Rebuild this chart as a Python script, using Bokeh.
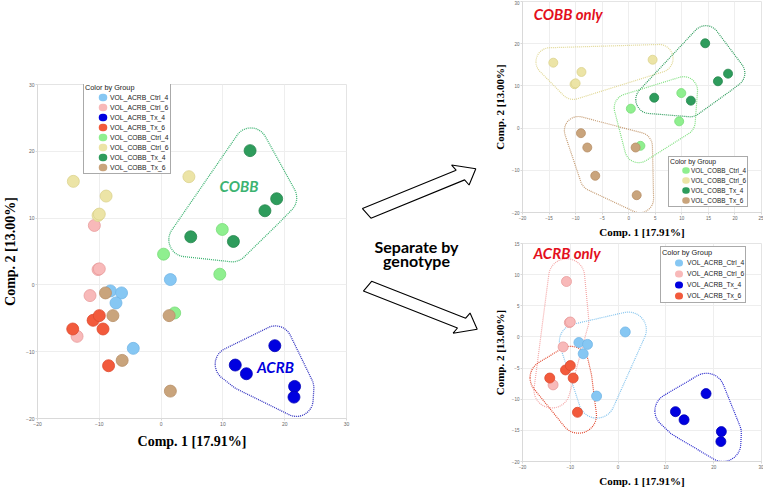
import numpy as np
from bokeh.plotting import figure
from bokeh.models import Range1d, FixedTicker, Legend, LegendItem, Label
from bokeh.layouts import row, column
from bokeh.embed import file_html
from bokeh.resources import INLINE

# ---------------- data ----------------
group_names = ["VOL_ACRB_Ctrl_4", "VOL_ACRB_Ctrl_6", "VOL_ACRB_Tx_4", "VOL_ACRB_Tx_6",
               "VOL_COBB_Ctrl_4", "VOL_COBB_Ctrl_6", "VOL_COBB_Tx_4", "VOL_COBB_Tx_6"]

acrb_ctrl4_x = [-8.2, -6.4, -7.3, 1.5, -4.5]
acrb_ctrl4_y = [-0.9, -1.2, -2.7, 0.8, -9.5]
acrb_ctrl6_x = [-10.8, -10.2, -10.0, -11.5, -13.6]
acrb_ctrl6_y = [8.9, 2.3, 2.4, -1.6, -7.7]
acrb_tx4_x = [18.4, 12.0, 13.8, 21.6, 21.5]
acrb_tx4_y = [-9.1, -12.0, -13.3, -15.2, -16.8]
acrb_tx6_x = [-14.3, -11.0, -10.0, -9.4, -8.5]
acrb_tx6_y = [-6.6, -5.3, -4.6, -6.6, -12.1]
cobb_ctrl4_x = [9.9, 0.4, 9.5, 2.2]
cobb_ctrl4_y = [8.3, 4.6, 1.6, -4.2]
cobb_ctrl6_x = [-14.2, -8.9, -10.2, -10.0, 4.5]
cobb_ctrl6_y = [15.5, 13.3, 10.4, 10.6, 16.2]
cobb_tx4_x = [14.4, 18.7, 16.8, 4.8, 11.7]
cobb_tx4_y = [20.1, 12.9, 11.1, 7.2, 6.5]
cobb_tx6_x = [-9.0, -7.8, 1.3, -6.3, 1.5]
cobb_tx6_y = [-1.2, -4.6, -4.6, -11.3, -15.9]

main_x_ticks = [-20, -10, 0, 10, 20, 30]
main_y_ticks = [-20, -10, 0, 10, 20, 30]
cobb_x_ticks = [-20, -15, -10, -5, 0, 5, 10, 15, 20, 25]
cobb_y_ticks = [-20, -10, 0, 10, 20, 30]
acrb_x_ticks = [-20, -10, 0, 10, 20, 30]
acrb_y_ticks = [-20, -15, -10, -5, 0, 5, 10, 15]

x_label = "Comp. 1 [17.91%]"
y_label = "Comp. 2 [13.00%]"

fills = ["#86c7f3", "#f8b9b9", "#0000e0", "#f25a3c", "#8fef8f", "#ece4a6", "#2e9c5c", "#c9a47c"]
edges = ["#74b6e6", "#e89c9c", "#0000b8", "#de4a2e", "#79dc79", "#dcd38e", "#24864d", "#b88f67"]
hull_cols = ["#84c4ee", "#f4a6a6", "#2222cc", "#e2462c", "#7fe07f", "#e0d793", "#2e9c5c", "#c49a70"]

xs = [acrb_ctrl4_x, acrb_ctrl6_x, acrb_tx4_x, acrb_tx6_x, cobb_ctrl4_x, cobb_ctrl6_x, cobb_tx4_x, cobb_tx6_x]
ys = [acrb_ctrl4_y, acrb_ctrl6_y, acrb_tx4_y, acrb_tx6_y, cobb_ctrl4_y, cobb_ctrl6_y, cobb_tx4_y, cobb_tx6_y]


def hull_outline(gx, gy, kx, ky, r, n=36):
    """Rounded convex hull (points grown by r screen px)."""
    ang = np.linspace(0, 2 * np.pi, n, endpoint=False)
    cx, cy = np.mean(gx) * kx, np.mean(gy) * ky
    pts = []
    for x, y in zip(gx, gy):
        px = cx + (x * kx - cx) * 1.1
        py = cy + (y * ky - cy) * 1.1
        for a in ang:
            pts.append((px + r * np.cos(a), py + r * np.sin(a)))
    pts = sorted(set(pts))

    def cross(o, a, b):
        return (a[0] - o[0]) * (b[1] - o[1]) - (a[1] - o[1]) * (b[0] - o[0])
    lower, upper = [], []
    for p in pts:
        while len(lower) >= 2 and cross(lower[-2], lower[-1], p) <= 0:
            lower.pop()
        lower.append(p)
    for p in reversed(pts):
        while len(upper) >= 2 and cross(upper[-2], upper[-1], p) <= 0:
            upper.pop()
        upper.append(p)
    h = lower[:-1] + upper[:-1]
    return [p[0] / kx for p in h], [p[1] / ky for p in h]


def style(p, label_size, tick_size, xt, yt, lab_standoff):
    p.xaxis.ticker = FixedTicker(ticks=xt)
    p.yaxis.ticker = FixedTicker(ticks=yt)
    for ax in p.axis:
        ax.axis_line_color = "#d9d9d9"
        ax.major_tick_line_color = "#d9d9d9"
        ax.major_tick_out = 2
        ax.major_tick_in = 0
        ax.minor_tick_line_color = None
        ax.major_label_text_font = "Liberation Sans"
        ax.major_label_text_font_size = tick_size
        ax.major_label_text_color = "#666666"
        ax.major_label_standoff = 1
        ax.axis_label_text_font = "Liberation Serif"
        ax.axis_label_text_font_style = "bold"
        ax.axis_label_text_font_size = label_size
        ax.axis_label_text_color = "#000000"
        ax.axis_label_standoff = lab_standoff
    for g in p.grid:
        g.grid_line_color = "#eeeeee"
    p.outline_line_color = "#e4e4e4"
    p.background_fill_color = "white"


def add_groups(p, idx, size, dot_w, gw, dot_at, pitch, loc, fs, tfs):
    items = []
    for i in idx:
        p.scatter(xs[i], ys[i], marker="circle", size=size, fill_color=fills[i],
                  line_color=edges[i], line_width=0.8)
        # legend swatch: one short dash with round caps -> a round dot
        sw = p.line(x=[np.nan], y=[np.nan], line_color=fills[i], line_width=dot_w,
                    line_cap="round", line_dash="1 %d" % (2 * dot_at - 1),
                    line_dash_offset=dot_at)
        items.append(LegendItem(label=group_names[i], renderers=[sw]))
    lg = Legend(items=items, location=loc, title="Color by Group",
                title_text_font="Liberation Sans", title_text_font_size=tfs,
                title_text_font_style="normal", title_standoff=0, title_text_color="#222222",
                label_text_font="Liberation Sans", label_text_font_size=fs,
                label_text_color="#222222",
                glyph_height=pitch, glyph_width=gw, label_height=pitch, spacing=0,
                label_standoff=1, padding=1, margin=0,
                border_line_color="#555555", border_line_width=1,
                background_fill_alpha=1.0)
    p.add_layout(lg)


# ---------------- main plot ----------------
main = figure(width=352, height=489, x_range=Range1d(-20, 30), y_range=Range1d(-20, 30),
              output_backend="svg", toolbar_location=None,
              min_border_left=32, min_border_right=6, min_border_top=84, min_border_bottom=71,
              x_axis_label=x_label, y_axis_label=y_label)
style(main, "14px", "5px", main_x_ticks, main_y_ticks, 5)
kx_m, ky_m = 314 / 50, 334 / 50
for gi, col in ((6, "#3cb371"), (2, "#3030c0")):
    hx, hy = hull_outline(xs[gi], ys[gi], kx_m, ky_m, 17)
    main.patch(hx, hy, fill_color=None, line_color=col, line_width=1.3, line_dash="1 1")
add_groups(main, range(8), 12, 7.5, 24, 17, 10, (46, 244), "6.8px", "7.3px")
main.add_layout(Label(x=12.6, y=14.8, text="COBB", text_font="Lato", text_font_style="bold italic",
                      text_font_size="15px", text_color="#3cb371", text_align="center",
                      text_baseline="middle"))
main.add_layout(Label(x=18.5, y=-12.3, text="ACRB", text_font="Lato", text_font_style="bold italic",
                      text_font_size="15px", text_color="#0000dd", text_align="center",
                      text_baseline="middle"))

# ---------------- middle: arrows and text ----------------
mid = figure(width=126, height=489, x_range=Range1d(352, 478), y_range=Range1d(489, 0),
             output_backend="svg", toolbar_location=None, min_border=0,
             x_axis_location=None, y_axis_location=None, outline_line_color=None)
for g in mid.grid:
    g.visible = False


def block_arrow(x0, y0, x1, y1, sw, hw, hl):
    b = np.array([x0, y0], float)
    t = np.array([x1, y1], float)
    u = (t - b) / np.hypot(*(t - b))
    n = np.array([-u[1], u[0]])
    hb = t - u * hl
    pts = [b + n * sw / 2, hb + n * sw / 2, hb + n * hw / 2, t, hb - n * hw / 2,
           hb - n * sw / 2, b - n * sw / 2]
    return [p[0] for p in pts], [p[1] for p in pts]


arrow_specs = [(366.2, 188.7, 475.3, 123.3), (367.0, 295.3, 476.7, 358.3)]
for (a, b, c, d) in arrow_specs:
    ax_, ay_ = block_arrow(a, b, c, d, 16.5, 34, 18)
    mid.patch(ax_, ay_, fill_color="white", line_color="black", line_width=1.1)
for txt, yy in (("Separate by", 236.7), ("genotype", 258)):
    mid.add_layout(Label(x=416, y=yy, text=txt, text_font="Lato", text_font_style="bold",
                         text_font_size="16px", text_color="black", text_align="center",
                         text_baseline="middle"))

# ---------------- COBB only ----------------
cobb = figure(width=285, height=240, x_range=Range1d(-20, 25), y_range=Range1d(-20, 30),
              output_backend="svg", toolbar_location=None,
              min_border_left=44, min_border_right=1, min_border_top=1, min_border_bottom=28,
              x_axis_label=x_label, y_axis_label=y_label)
style(cobb, "11px", "4.5px", cobb_x_ticks, cobb_y_ticks, 3)
kx_c, ky_c = 240 / 45, 211 / 50
for gi in (5, 7, 4, 6):
    hx, hy = hull_outline(xs[gi], ys[gi], kx_c, ky_c, 14)
    cobb.patch(hx, hy, fill_color=None, line_color=hull_cols[gi], line_width=1.2, line_dash="1 1")
add_groups(cobb, range(4, 8), 9, 6.5, 20, 15, 10, (146, 5), "6.4px", "6.8px")
cobb.add_layout(Label(x=-17.9, y=27.0, text="COBB only", text_font="Lato",
                      text_font_style="bold italic", text_font_size="15px", text_color="#e3101c",
                      text_align="left", text_baseline="middle"))

# ---------------- ACRB only ----------------
acrb = figure(width=285, height=249, x_range=Range1d(-20, 30), y_range=Range1d(-20, 15),
              output_backend="svg", toolbar_location=None,
              min_border_left=44, min_border_right=2, min_border_top=3, min_border_bottom=25,
              x_axis_label=x_label, y_axis_label=y_label)
style(acrb, "11px", "4.5px", acrb_x_ticks, acrb_y_ticks, 3)
kx_a, ky_a = 239 / 50, 221 / 35
for gi in (1, 0, 3, 2):
    hx, hy = hull_outline(xs[gi], ys[gi], kx_a, ky_a, 18)
    acrb.patch(hx, hy, fill_color=None, line_color=hull_cols[gi], line_width=1.2, line_dash="1 1")
add_groups(acrb, range(0, 4), 10, 7, 24, 16, 11, (138, 158), "6.7px", "7.4px")
acrb.add_layout(Label(x=-17.7, y=13.5, text="ACRB only", text_font="Lato",
                      text_font_style="bold italic", text_font_size="15px", text_color="#e3101c",
                      text_align="left", text_baseline="middle"))

layout = row(main, mid, column(cobb, acrb))
open("out.html", "w").write(file_html(layout, INLINE))
